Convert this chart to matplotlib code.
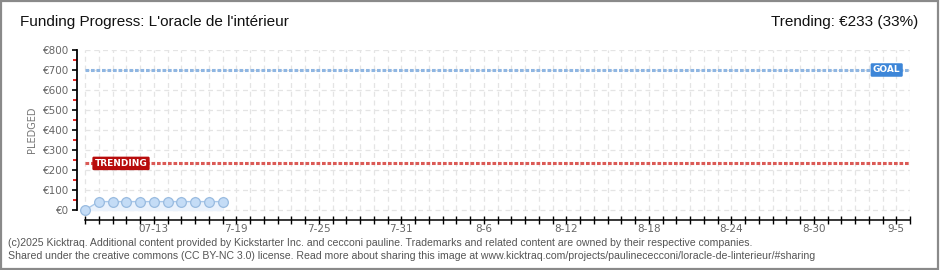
import numpy as np
import pandas as pd
import matplotlib
matplotlib.use("Agg")
import matplotlib.pyplot as plt
import matplotlib.dates as mdates

plt.rcParams['font.family'] = ['Liberation Sans', 'DejaVu Sans']

# data
dates = pd.date_range("2025-07-08", "2025-07-18")
pledged = [0, 42, 42, 42, 42, 42, 42, 42, 42, 42, 42]
goal = 700
trending = 233
trend_pct = 33
start = pd.Timestamp("2025-07-08")
end = pd.Timestamp("2025-09-06")
label_dates = pd.date_range("2025-07-13", "2025-09-05", freq="6D")
label_text = ["07-13", "7-19", "7-25", "7-31", "8-6", "8-12", "8-18", "8-24", "8-30", "9-5"]
yticks = [0, 100, 200, 300, 400, 500, 600, 700, 800]

W, H = 940, 270
fig = plt.figure(figsize=(W / 100, H / 100), dpi=100)
fig.patch.set_facecolor("white")

# border
fig.add_artist(plt.Rectangle((0.001, 0.002), 0.997, 0.995, transform=fig.transFigure,
                             fill=False, edgecolor="#8a8a8a", linewidth=1.6))

x0 = mdates.date2num(start)
x1 = mdates.date2num(end)
px_day = (910 - 85) / (x1 - x0)
left_pad = (85 - 76.5) / px_day

ax = fig.add_axes([76.5 / W, (H - 220) / H, (910 - 76.5) / W, 170 / H])
ax.set_xlim(x0 - left_pad, x1)
ax.set_ylim(-50, 800)
ax.set_facecolor("white")

# grid
days = mdates.date2num(pd.date_range(start, end))
for d in days:
    ax.plot([d, d], [0, 800], color="#e4e4e4", lw=0.9, ls=(0, (4, 3)), zorder=0)
for v in yticks:
    ax.plot([x0, x1], [v, v], color="#e4e4e4", lw=0.9, ls=(0, (4, 3)), zorder=0)

# goal & trending lines
ax.plot([x0, x1], [goal, goal], color="#8fb6e2", lw=2.2, ls=(0, (1.2, 0.6)), zorder=2)
ax.plot([x0, x1], [trending, trending], color="#db5a56", lw=2.2, ls=(0, (1.2, 0.6)), zorder=2)

# pledged series
xd = mdates.date2num(dates)
ax.fill_between(xd, pledged, 0, color="#eaf2fc", zorder=1)
ax.plot(xd, pledged, color="#a9c8ea", lw=1, zorder=3)
ax.plot(xd, pledged, ls="none", marker="o", ms=7, mfc="#c4dcf6",
        mec="#99bbe0", mew=0.9, zorder=4)

# label boxes
ax.text(x0 + 0.7, trending, "TRENDING", color="white", fontsize=6.5, fontweight="bold",
        family="DejaVu Sans", va="center", ha="left", zorder=5,
        bbox=dict(boxstyle="round,pad=0.25,rounding_size=0.15", fc="#b80c0c", ec="none"))
ax.text(x1 - 2.7, goal, "GOAL", color="white", fontsize=6.5, fontweight="bold",
        family="DejaVu Sans", va="center", ha="left", zorder=5,
        bbox=dict(boxstyle="round,pad=0.25,rounding_size=0.15", fc="#3d86d8", ec="none"))

# spines
for s in ["top", "right"]:
    ax.spines[s].set_visible(False)
ax.spines["left"].set_bounds(0, 800)
ax.spines["bottom"].set_bounds(x0, x1)
ax.spines["left"].set_linewidth(1.3)
ax.spines["bottom"].set_linewidth(1.1)

ax.set_yticks(yticks)
ax.set_yticklabels(["€%d" % v for v in yticks], color="#666666", fontsize=7.5,
                   family="DejaVu Sans")
ax.set_yticks(np.arange(50, 800, 100), minor=True)
ax.tick_params(axis="y", which="major", direction="out", length=3.5, width=1.2, color="black", pad=2)
ax.tick_params(axis="y", which="minor", direction="out", length=3, width=1.2, color="#e00000")

ax.set_xticks(days)
ax.set_xticklabels([""] * len(days))
ax.tick_params(axis="x", which="major", direction="inout", length=6, width=1.0, color="black")
for d, t in zip(mdates.date2num(label_dates), label_text):
    ax.text(d, -68, t, ha="center", va="top", color="#666666", fontsize=7.5,
            family="DejaVu Sans")

fig.text(32 / W, 1 - 130 / H, "PLEDGED", color="#777777", fontsize=7, family="DejaVu Sans",
         rotation=90, ha="center", va="center")

# titles
fig.text(20 / W, 1 - 22 / H, "Funding Progress: L'oracle de l'intérieur", fontsize=11,
         color="#111111", va="center", ha="left")
fig.text(918 / W, 1 - 22 / H, "Trending: €%d (%d%%)" % (trending, trend_pct), fontsize=11,
         color="#111111", va="center", ha="right")

# footer
fig.text(8 / W, 1 - 243 / H, "(c)2025 Kicktraq. Additional content provided by Kickstarter Inc. and cecconi pauline. Trademarks and related content are owned by their respective companies.",
         fontsize=7.6, color="#555555", va="center", ha="left")
fig.text(8 / W, 1 - 256 / H, "Shared under the creative commons (CC BY-NC 3.0) license. Read more about sharing this image at www.kicktraq.com/projects/paulinececconi/loracle-de-linterieur/#sharing",
         fontsize=7.6, color="#555555", va="center", ha="left")

fig.savefig("out.png", dpi=100, facecolor="white")
